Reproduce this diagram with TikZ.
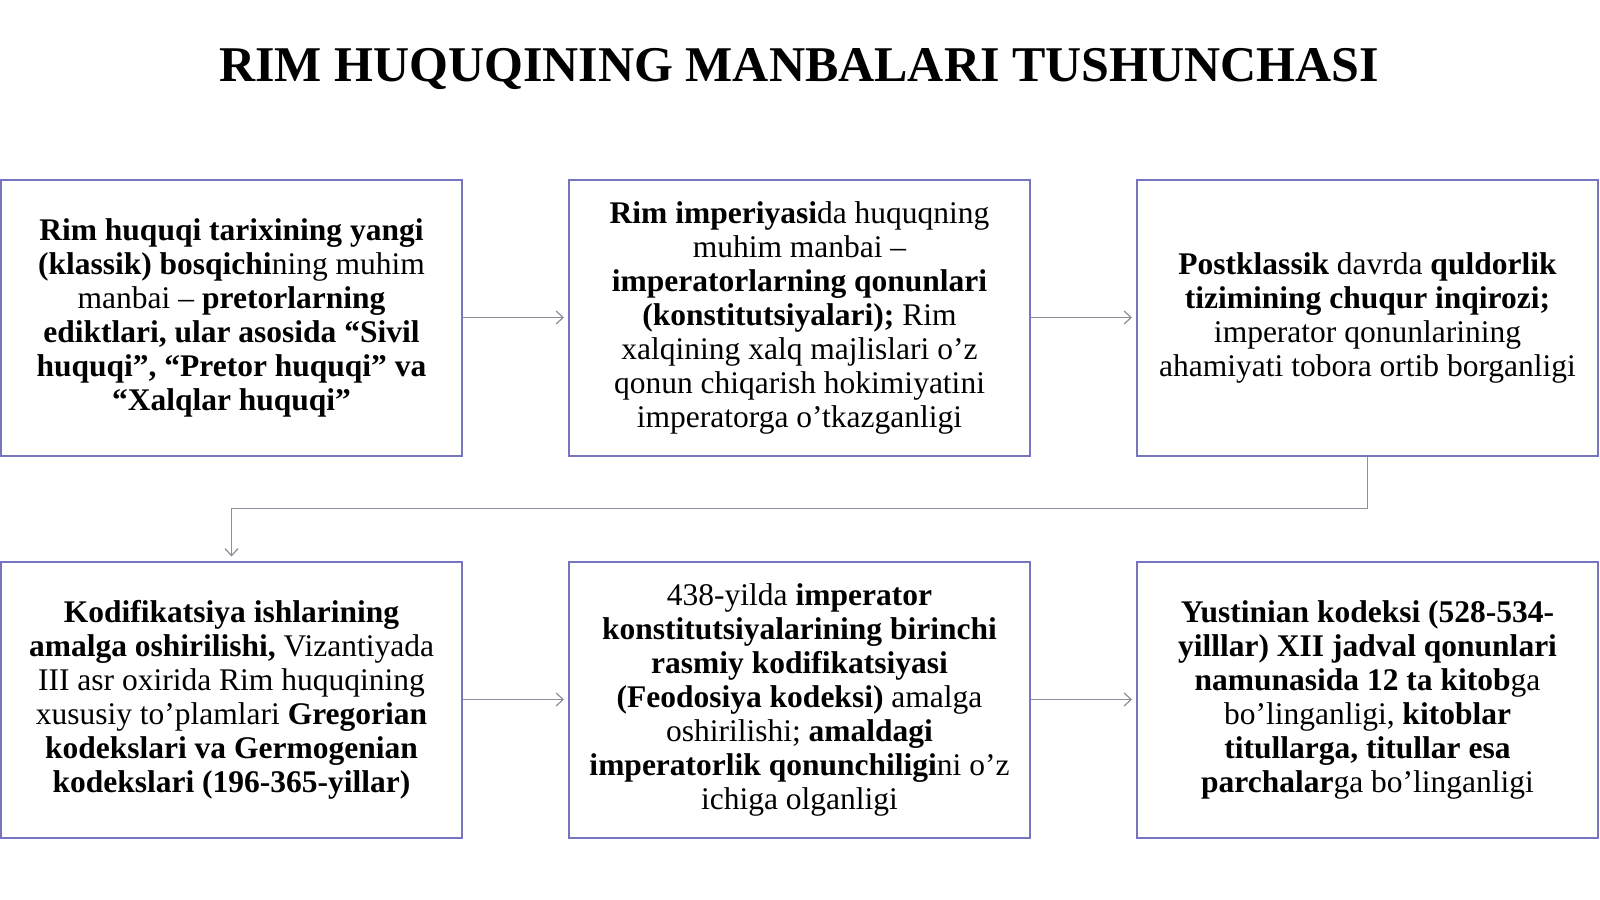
\documentclass[tikz,border=0pt]{standalone}
\usepackage{fontspec}
\setmainfont{Liberation Serif}
\usepackage{tikz}
\usetikzlibrary{positioning}
\usetikzlibrary{arrows.meta}
\definecolor{boxblue}{RGB}{118, 118, 190}
\definecolor{linkgray}{RGB}{140, 142, 155}

\begin{document}
\begin{tikzpicture}[x=0.5pt, y=-0.5pt,
    srcbox/.style={draw=boxblue, line width=1pt, fill=white, minimum width=230.5pt, minimum height=138pt,
        align=center, inner sep=0pt, font=\fontsize{15.75}{17}\selectfont,
        execute at begin node={\rule{0pt}{17pt}}},
    link/.style={draw=linkgray, line width=0.6pt, -{Straight Barb[length=3.5pt, width=6.5pt]}, shorten >=2pt}]
%
\useasboundingbox[fill=white] (0, 0) rectangle (1600, 899);

%
\node[anchor=base, font=\fontsize{25}{30}\selectfont\bfseries](title) at (799, 82) {RIM HUQUQINING MANBALARI TUSHUNCHASI};

%
\node[srcbox](klassik) at (231.5, 317.5) {
    \textbf{Rim huquqi tarixining yangi} \\
    \textbf{(klassik) bosqichi}ning muhim \\
    manbai -- \textbf{pretorlarning} \\
    \textbf{ediktlari, ular asosida “Sivil} \\
    \textbf{huquqi”, “Pretor huquqi” va} \\
    \textbf{“Xalqlar huquqi”}
};

\node[srcbox](imperiya) at (799.5, 317.5) {
    \textbf{Rim imperiyasi}da huquqning \\
    muhim manbai -- \\
    \textbf{imperatorlarning qonunlari} \\
    \textbf{(konstitutsiyalari);} Rim \\
    xalqining xalq majlislari o’z \\
    qonun chiqarish hokimiyatini \\
    imperatorga o’tkazganligi
};

\node[srcbox](postklassik) at (1367.5, 317.5) {
    \textbf{Postklassik} davrda \textbf{quldorlik} \\
    \textbf{tizimining chuqur inqirozi;} \\
    imperator qonunlarining \\
    ahamiyati tobora ortib borganligi
};

%
\node[srcbox](kodifik) at (231.5, 699.5) {
    \textbf{Kodifikatsiya ishlarining} \\
    \textbf{amalga oshirilishi,} Vizantiyada \\
    III asr oxirida Rim huquqining \\
    xususiy to’plamlari \textbf{Gregorian} \\
    \textbf{kodekslari va Germogenian} \\
    \textbf{kodekslari (196-365-yillar)}
};

\node[srcbox](feodosiya) at (799.5, 699.5) {
    438-yilda \textbf{imperator} \\
    \textbf{konstitutsiyalarining birinchi} \\
    \textbf{rasmiy kodifikatsiyasi} \\
    \textbf{(Feodosiya kodeksi)} amalga \\
    oshirilishi; \textbf{amaldagi} \\
    \textbf{imperatorlik qonunchiligi}ni o’z \\
    ichiga olganligi
};

\node[srcbox](yustinian) at (1367.5, 699.5) {
    \textbf{Yustinian kodeksi (528-534-} \\
    \textbf{yilllar) XII jadval qonunlari} \\
    \textbf{namunasida 12 ta kitob}ga \\
    bo’linganligi, \textbf{kitoblar} \\
    \textbf{titullarga, titullar esa} \\
    \textbf{parchalar}ga bo’linganligi
};

%
\draw[link] (klassik) -- (imperiya);
\draw[link] (imperiya) -- (postklassik);
\draw[link] (postklassik.south) -- ++(0, 52) -| (kodifik.north);
\draw[link] (kodifik) -- (feodosiya);
\draw[link] (feodosiya) -- (yustinian);

\end{tikzpicture}
\end{document}
